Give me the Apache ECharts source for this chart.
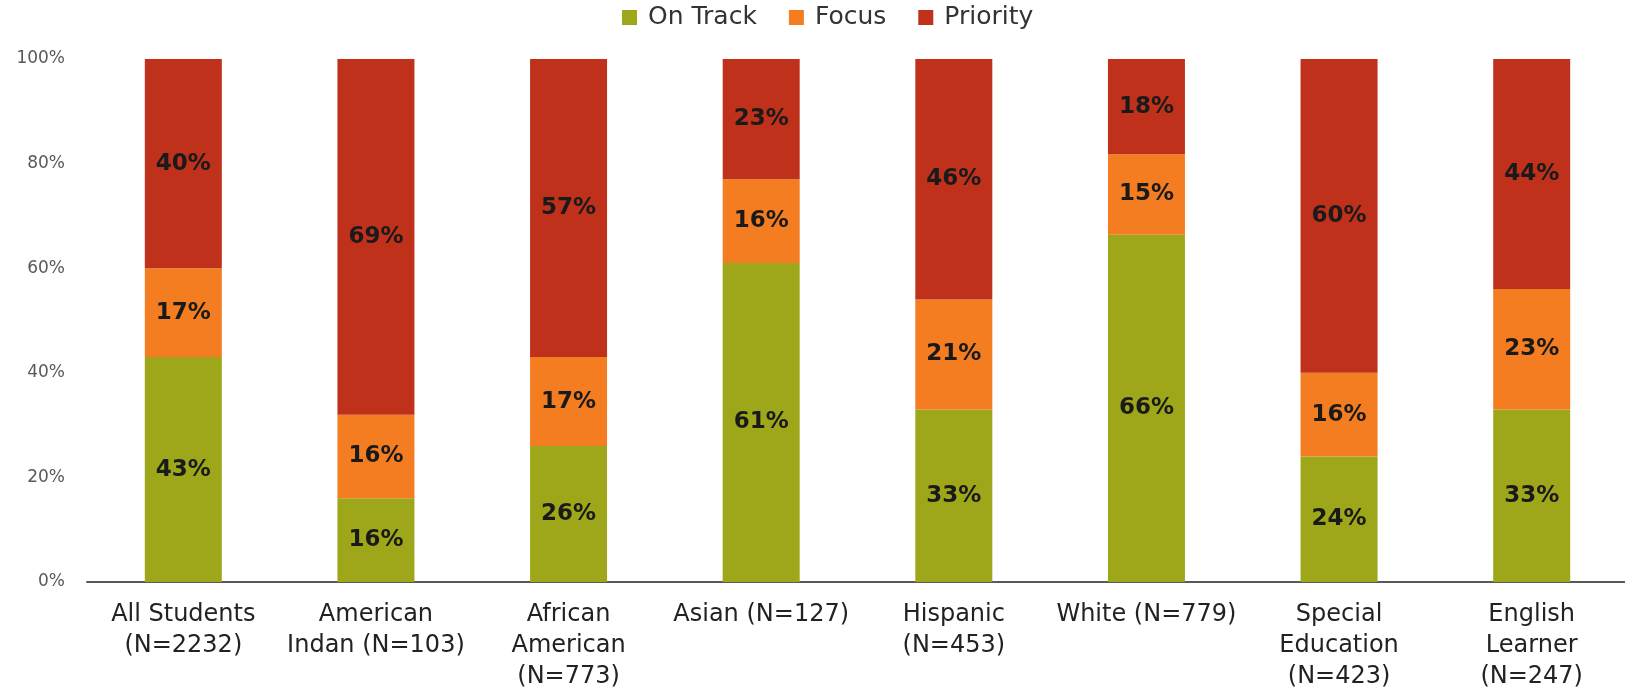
<!DOCTYPE html>
<html><head><meta charset="utf-8">
<script src="https://cdn.jsdelivr.net/npm/echarts@6/dist/echarts.min.js"></script>
<style>html,body{margin:0;padding:0;background:#fff}#c{width:1625px;height:687px}</style>
</head><body><div id="c"></div>
<script>
const categories = ["All Students\n(N=2232)","American\nIndan (N=103)","African\nAmerican\n(N=773)","Asian (N=127)","Hispanic\n(N=453)","White (N=779)","Special\nEducation\n(N=423)","English\nLearner\n(N=247)"];
const onTrack = [43,16,26,61,33,66.4,24,33];
const focus = [17,16,17,16,21,15.4,16,23];
const priority = [40,69,57,23,46,18.2,60,44];
const yTicks = [0,20,40,60,80,100];

const chart = echarts.init(document.getElementById('c'), null, {renderer:'canvas'});
const lbl = {show:true, position:'inside', formatter:p=>Math.round(p.value)+'%', color:'#1a1a1a', fontFamily:'DejaVu Sans', fontWeight:'bold', fontSize:23};
function s(name, data, color){
  return {name, type:'bar', stack:'a', data, barWidth:77, itemStyle:{color}, label:lbl, emphasis:{disabled:true}};
}
chart.setOption({
  animation:false,
  legend:{top:0, left:617, itemWidth:15, itemHeight:15, itemGap:32, icon:'rect',
    textStyle:{fontFamily:'DejaVu Sans', fontSize:25, color:'#333', padding:[0,0,0,6]}},
  grid:{left:87, right:-3, top:59, bottom:105, containLabel:false, outerBoundsMode:'none'},
  xAxis:{type:'category', data:categories, axisTick:{show:false},
    axisLine:{lineStyle:{color:'#595959', width:2}},
    axisLabel:{interval:0, margin:17, fontFamily:'DejaVu Sans', fontSize:24, color:'#222', lineHeight:31}},
  yAxis:{type:'value', min:0, max:100, interval:20, splitLine:{show:false},
    axisLine:{show:false}, axisTick:{show:false},
    axisLabel:{formatter:v=>v+'%', margin:22, fontFamily:'DejaVu Sans', fontSize:17, color:'#595959'}},
  series:[s('On Track', onTrack, '#9ea719'), s('Focus', focus, '#f47d21'), s('Priority', priority, '#bf311b')]
});
</script></body></html>
